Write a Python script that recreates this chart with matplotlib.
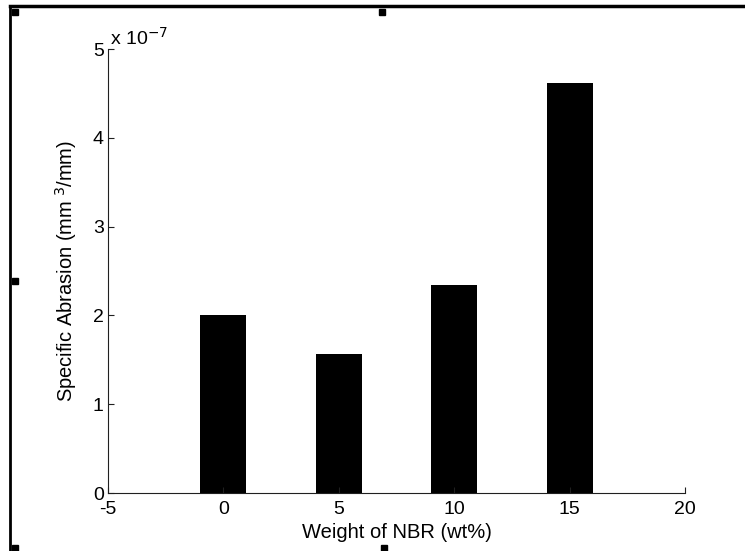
import matplotlib
matplotlib.use("Agg")
import matplotlib.pyplot as plt
from matplotlib.lines import Line2D
from matplotlib.patches import Rectangle
from matplotlib.ticker import FuncFormatter

plt.rcParams['font.family'] = ['Liberation Sans', 'DejaVu Sans']
plt.rcParams['axes.unicode_minus'] = False

# data
nbr_wt = [0, 5, 10, 15]
abrasion = [2.01e-7, 1.56e-7, 2.34e-7, 4.62e-7]   # mm^3/mm
x_ticks = [-5, 0, 5, 10, 15, 20]
y_ticks = [0, 1e-7, 2e-7, 3e-7, 4e-7, 5e-7]

W, H = 745, 551
fig = plt.figure(figsize=(W / 100, H / 100), dpi=100)
fig.patch.set_facecolor('white')

# axes box in pixels: left 108, right 685, top 49, bottom 493
ax = fig.add_axes([108 / W, 1 - 493 / H, (685 - 108) / W, (493 - 49) / H])
ax.bar(nbr_wt, abrasion, width=2, color='black', edgecolor='none')

ax.set_xlim(-5, 20)
ax.set_ylim(0, 5e-7)
ax.set_xticks(x_ticks)
ax.set_yticks(y_ticks)
ax.yaxis.set_major_formatter(FuncFormatter(lambda v, p: '%g' % round(v / 1e-7, 6)))

for s in ['top', 'right']:
    ax.spines[s].set_visible(False)
for s in ['left', 'bottom']:
    ax.spines[s].set_linewidth(0.8)
    ax.spines[s].set_color('#202020')

ax.tick_params(direction='in', length=4.3, width=0.8, labelsize=14, color='#202020')
ax.tick_params(axis='x', pad=5.5)
ax.tick_params(axis='y', pad=3)

ax.set_xlabel('Weight of NBR (wt%)', fontsize=14.5, labelpad=4)
ax.set_ylabel('Specific Abrasion (mm$^{\\ 3}$/mm)', fontsize=14.5, labelpad=10)
ax.text(0.003, 1.0, 'x 10$^{-7}$', transform=ax.transAxes, fontsize=14,
        ha='left', va='bottom')

# figure frame and selection handles (MATLAB screenshot look)
fig.add_artist(Line2D([10 / W, 10 / W], [0, 1 - 6 / H], transform=fig.transFigure,
                      color='black', lw=2))
fig.add_artist(Line2D([10 / W, 1], [1 - 6 / H, 1 - 6 / H], transform=fig.transFigure,
                      color='black', lw=2.5))
for hx, hy in [(15, 12), (382, 12), (15, 281), (15, 548), (384, 548)]:
    fig.add_artist(Rectangle(((hx - 3) / W, 1 - (hy + 3) / H), 6 / W, 6 / H,
                             transform=fig.transFigure, color='black'))

fig.savefig('out.png', dpi=100)
